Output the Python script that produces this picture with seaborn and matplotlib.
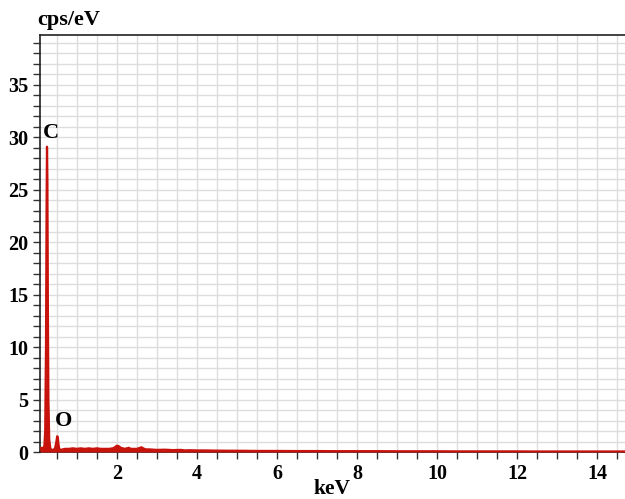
import matplotlib
matplotlib.use("Agg")
import matplotlib.pyplot as plt
import seaborn as sns
import pandas as pd
import numpy as np
from matplotlib.ticker import MultipleLocator

# ---- data ----
energy_kev = [0.08, 0.12, 0.16, 0.19, 0.21, 0.23, 0.245, 0.255, 0.265, 0.275, 0.29, 0.31, 0.34,
              0.38, 0.42, 0.46, 0.49, 0.51, 0.525, 0.54, 0.56, 0.60, 0.65, 0.70, 0.80, 0.90,
              1.00, 1.10, 1.20, 1.30, 1.40, 1.50, 1.60, 1.70, 1.80, 1.90, 1.95, 2.00, 2.05,
              2.10, 2.15, 2.20, 2.30, 2.35, 2.40, 2.50, 2.58, 2.62, 2.66, 2.72, 2.80, 3.00,
              3.20, 3.40, 3.60, 3.70, 3.80, 4.00, 4.20, 4.50, 4.80, 5.00, 5.50, 6.00, 6.50,
              7.00, 7.50, 8.00, 8.50, 9.00, 9.50, 10.0, 10.5, 11.0, 11.5, 12.0, 12.5, 13.0,
              13.5, 14.0, 14.7]
cps = [0.3, 0.4, 0.35, 0.6, 2.0, 10.0, 24.0, 29.1, 26.0, 15.0, 5.0, 1.2, 0.3,
       0.2, 0.2, 0.4, 1.0, 1.5, 1.4, 0.8, 0.3, 0.2, 0.25, 0.3, 0.3, 0.35,
       0.3, 0.35, 0.3, 0.35, 0.3, 0.35, 0.3, 0.3, 0.3, 0.35, 0.45, 0.6, 0.55,
       0.4, 0.35, 0.3, 0.4, 0.3, 0.3, 0.3, 0.4, 0.45, 0.35, 0.25, 0.25, 0.2,
       0.22, 0.18, 0.2, 0.15, 0.17, 0.15, 0.15, 0.13, 0.12, 0.12, 0.1, 0.1, 0.09,
       0.09, 0.08, 0.08, 0.08, 0.07, 0.07, 0.07, 0.06, 0.06, 0.06, 0.06, 0.05, 0.05,
       0.05, 0.05, 0.05]
peak_labels = ["C", "O"]
peak_energy = [0.26, 0.525]
peak_height = [29.1, 1.5]

x_ticks = [2, 4, 6, 8, 10, 12, 14]
y_ticks = [0, 5, 10, 15, 20, 25, 30, 35]

df = pd.DataFrame({"keV": energy_kev, "cps": cps})

sns.set_style("white")
plt.rcParams["font.family"] = ["Liberation Serif", "DejaVu Serif"]
plt.rcParams["font.weight"] = "bold"
plt.rcParams["text.color"] = "black"
plt.rcParams["xtick.color"] = "black"
plt.rcParams["ytick.color"] = "black"
plt.rcParams["axes.labelcolor"] = "black"

RED = "#c8120c"
fig = plt.figure(figsize=(6.25, 4.99), dpi=100)
ax = fig.add_axes([40 / 625, 47 / 499, 585 / 625, 417 / 499])

ax.fill_between(df["keV"], 0, df["cps"], color=RED, linewidth=0, zorder=3)
sns.lineplot(data=df, x="keV", y="cps", ax=ax, color=RED, linewidth=1.6, zorder=4)

ax.set_xlim(0.08, 14.7)
ax.set_ylim(0, 39.75)

ax.xaxis.set_major_locator(matplotlib.ticker.FixedLocator(x_ticks))
ax.xaxis.set_minor_locator(MultipleLocator(0.5))
ax.yaxis.set_major_locator(matplotlib.ticker.FixedLocator(y_ticks))
ax.yaxis.set_minor_locator(MultipleLocator(1))

ax.grid(which="both", color="#dddddd", linewidth=1.0, zorder=0)
ax.set_axisbelow(True)

for s in ["left", "top", "bottom"]:
    ax.spines[s].set_color("#222222")
    ax.spines[s].set_linewidth(1.2)
ax.spines["right"].set_visible(False)

ax.tick_params(which="both", direction="out", length=5, width=1.0, color="#333333",
               labelsize=14.5, labelcolor="black", bottom=True, left=True)
for lab in ax.get_xticklabels() + ax.get_yticklabels():
    lab.set_fontweight("bold")

ax.set_xlabel("")
ax.set_ylabel("")
fig.text(332 / 625, 1 - 489 / 499, "keV", fontsize=15.5, fontweight="bold",
         ha="center", va="center", color="black")
fig.text(37 / 625, 1 - 20 / 499, "cps/eV", fontsize=16, fontweight="bold",
         ha="left", va="center", color="black")

ax.text(peak_energy[0] - 0.1, peak_height[0] + 0.4, peak_labels[0], fontsize=16,
        fontweight="bold", ha="left", va="bottom", color="black")
ax.text(peak_energy[1] - 0.07, peak_height[1] + 0.5, peak_labels[1], fontsize=16,
        fontweight="bold", ha="left", va="bottom", color="black")

fig.savefig("out.png", dpi=100)
